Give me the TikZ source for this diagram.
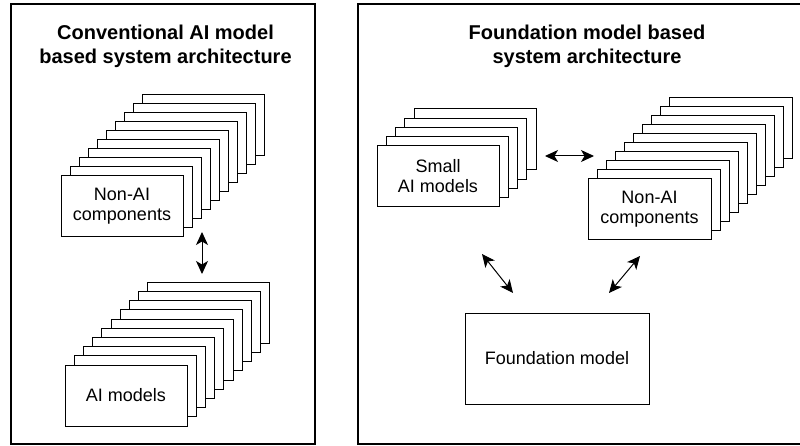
\documentclass[tikz,border=0pt]{standalone}
\usepackage{fontspec}
\setmainfont{Liberation Sans}
\usetikzlibrary{arrows.meta}

\begin{document}
\begin{tikzpicture}[x=1pt,y=-1pt]
    \tikzstyle{every node}=[font=\fontsize{18}{20}\selectfont]
    \tikzstyle{card}=[rectangle, draw, fill=white, line width=1pt, minimum width=122pt, minimum height=61pt, align=center, inner sep=0pt]
    \tikzstyle{panel}=[line width=1.2pt]
    \tikzstyle{title}=[align=center, font=\fontsize{20}{24}\selectfont\bfseries]
    \tikzstyle{link}=[line width=1pt, {Stealth[length=13pt,width=12pt,inset=3.5pt]}-{Stealth[length=13pt,width=12pt,inset=3.5pt]}]

    \useasboundingbox (0,0) rectangle (800,446);

    % the two frames
    \draw[panel] (11,4) rectangle (315,444);
    \draw[panel] (800,4) -| (358,444) -- (800,444);

    \node[title] (convtitle) at (165.5,46) {Conventional AI model\\based system architecture};
    \node[title] (fmtitle) at (587,46) {Foundation model based\\system architecture};

    % conventional side
    \foreach \i in {9,...,1}
      \node[card] (nonaiL\i) at ({122+9.1*\i},{206.5-9.1*\i}) {};
    \node[card] (nonaiL) at (122,206.5) {Non-AI\\components};

    \foreach \i in {9,...,1}
      \node[card] (aiL\i) at ({126+9.2*\i},{395.5-9.2*\i}) {};
    \node[card] (aiL) at (126,395.5) {AI models};

    \coordinate (convtop) at (202,232);
    \coordinate (convbot) at (202,274);
    \draw[link] (convtop) -- (convbot);

    % foundation model side
    \foreach \i in {4,...,1}
      \node[card] (smallai\i) at ({438+9.25*\i},{176.5-9.25*\i}) {};
    \node[card] (smallai) at (438,176.5) {Small\\AI models};

    \foreach \i in {9,...,1}
      \node[card, minimum width=123pt] (nonaiR\i) at ({649.5+9*\i},{209.5-9*\i}) {};
    \node[card, minimum width=123pt] (nonaiR) at (649.5,209.5) {Non-AI\\components};

    \node[card, minimum width=184pt, minimum height=91pt] (fm) at (557,358.5) {Foundation model};

    \coordinate (midL) at (545,156);
    \coordinate (midR) at (594,156);
    \coordinate (diagA) at (482,254);
    \coordinate (diagB) at (513,293);
    \coordinate (diagC) at (640,256);
    \coordinate (diagD) at (609,293);
    \draw[link] (midL) -- (midR);
    \draw[link] (diagA) -- (diagB);
    \draw[link] (diagC) -- (diagD);
\end{tikzpicture}
\end{document}
